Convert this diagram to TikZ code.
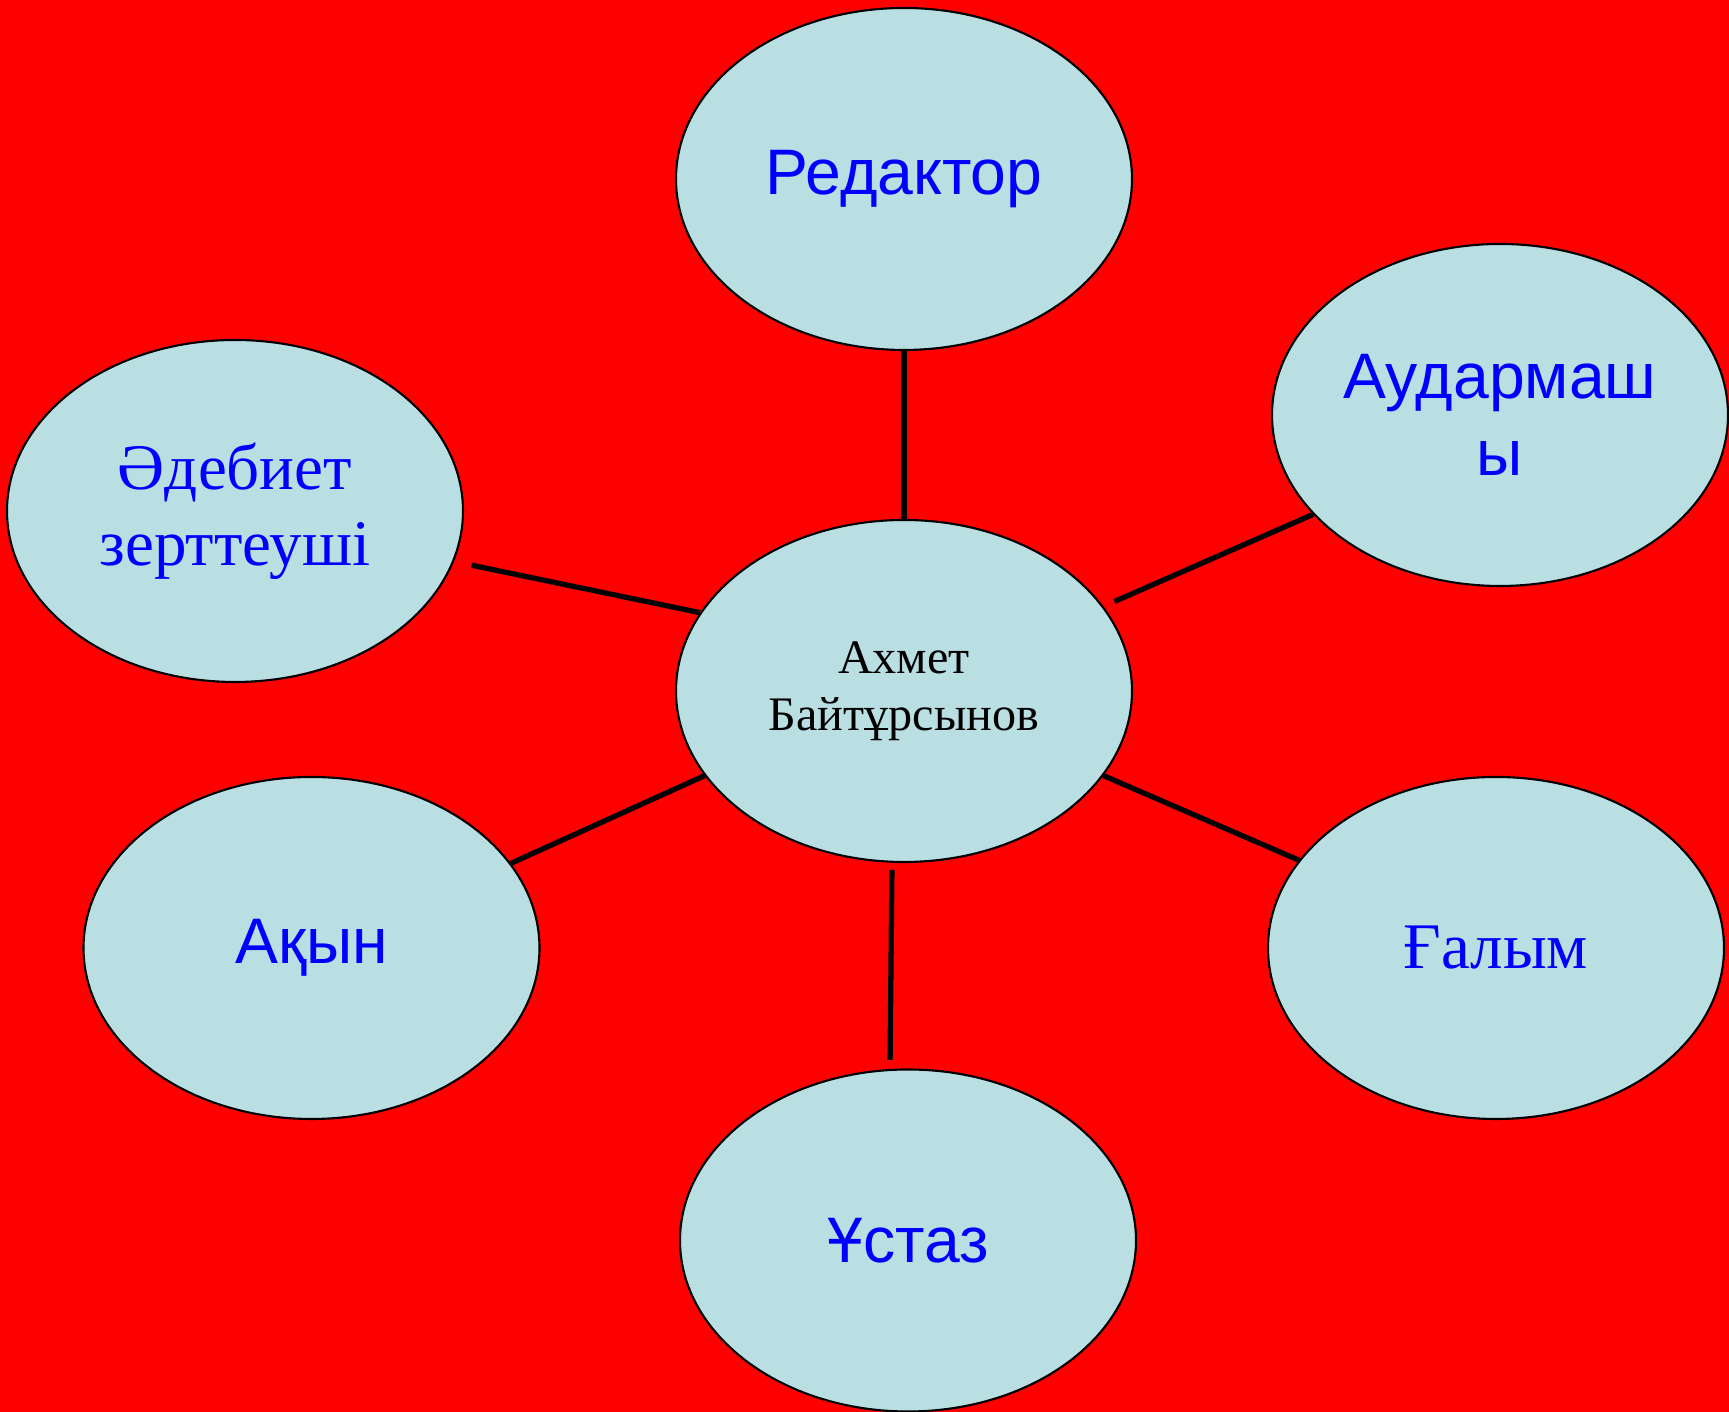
\documentclass[tikz,border=0pt]{standalone}
\usepackage{fontspec}
\setmainfont{Liberation Serif}
\newfontfamily\arialfont{Liberation Sans}
\usetikzlibrary{shapes.geometric}
\definecolor{bubblefill}{RGB}{185,223,227}
\begin{document}
\begin{tikzpicture}[
        bubble/.style={ellipse,draw,semithick,fill=bubblefill,minimum width=4.56cm,minimum height=3.42cm,inner sep=0pt,align=center,text=blue,font=\fontsize{18.5}{21.5}\selectfont},
        sansbubble/.style={bubble,font=\arialfont\fontsize{18.3}{22}\selectfont},
        spoke/.style={line width=1.5pt}]
        \useasboundingbox (0,0) rectangle (17.29,14.12);
        \fill[red] (0,0) rectangle (17.29,14.12);
        \node[bubble,text=black,font=\fontsize{13.7}{16.2}\selectfont] (hub) at (9.04,7.21) {Ахмет\\Байтұрсынов};
        \node[sansbubble] (editor) at (9.04,12.33) {Редактор};
        \node[sansbubble] (translator) at (15.00,9.97) {Аудармаш\\ы};
        \node[bubble] (critic) at (2.35,9.01) {Әдебиет\\зерттеуші};
        \node[sansbubble] (poet) at (3.115,4.64) {Ақын};
        \node[bubble] (scholar) at (14.96,4.64) {Ғалым};
        \node[sansbubble] (teacher) at (9.08,1.715) {Ұстаз};
        \draw[spoke] (hub.90) -- (editor.-90);
        \draw[spoke,shorten <=0.12cm] (hub.23) -- (translator.208);
        \draw[spoke,shorten >=0.18cm] (hub.159) -- (critic.-13);
        \draw[spoke] (hub.203.5) -- (poet.23.6);
        \draw[spoke] (hub.-23.6) -- (scholar.156.3);
        \draw[spoke,shorten <=0.07cm,shorten >=0.09cm] (hub.-94) -- (teacher.96.4);
\end{tikzpicture}
\end{document}
